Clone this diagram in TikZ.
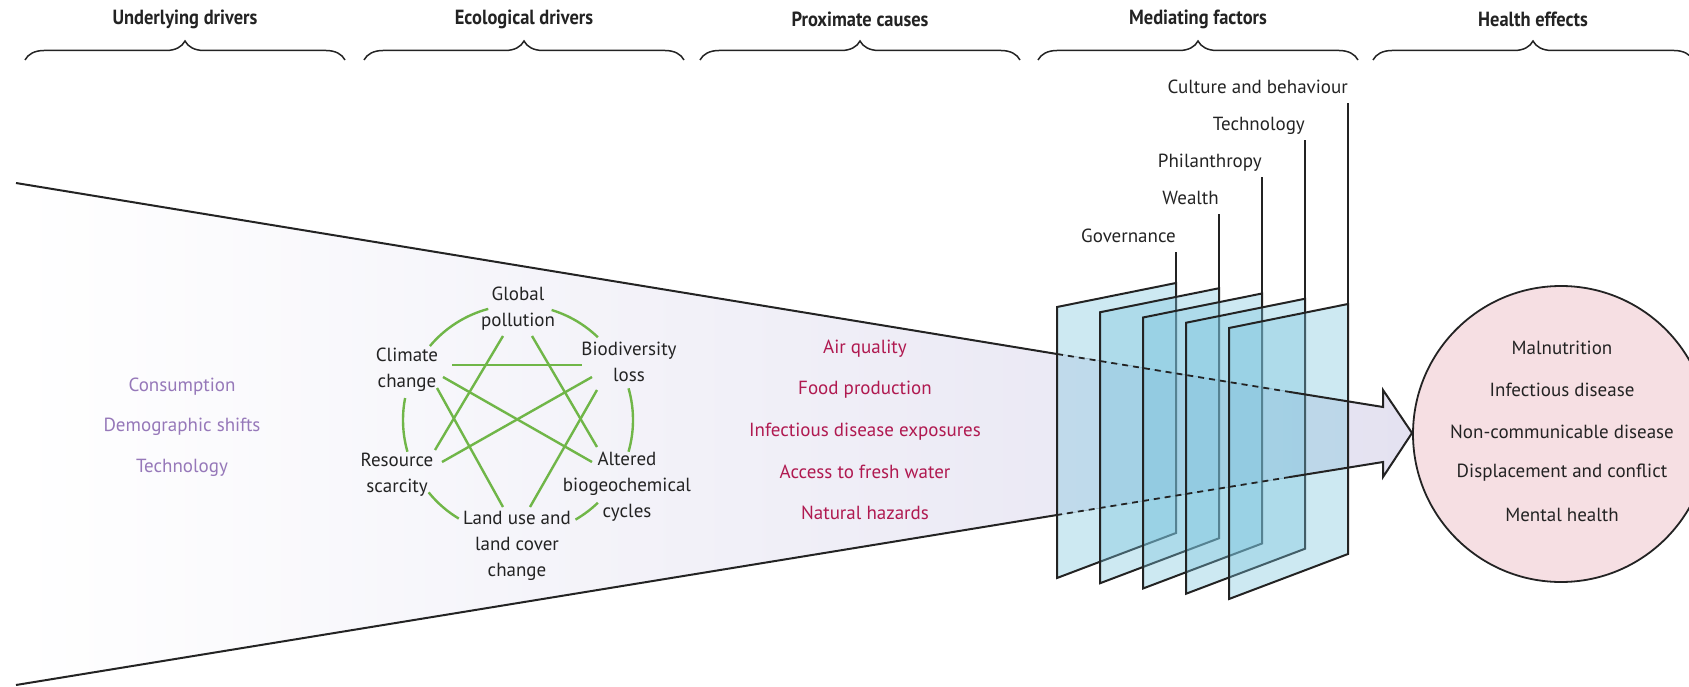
\documentclass[tikz,border=0pt]{standalone}
\usepackage{fontspec}
\usepackage{graphicx}
\setmainfont{PT Sans}
\usetikzlibrary{decorations.pathreplacing}
\definecolor{ink}{RGB}{35,35,35}
\definecolor{leaf}{RGB}{112,182,72}
\definecolor{plum}{RGB}{150,120,185}
\definecolor{crim}{RGB}{176,25,80}
\definecolor{lav}{RGB}{228,226,241}
\definecolor{pane}{RGB}{120,195,220}
\definecolor{rose}{RGB}{246,223,227}
\newcommand{\hdrtext}[1]{\scalebox{0.9}[1]{#1}}
\begin{document}
\begin{tikzpicture}[x=1pt,y=1pt,
  every node/.style={font=\fontsize{19}{26}\selectfont, text=ink, inner sep=0pt},
  hdr/.style={font=\fontsize{20.5}{24}\selectfont\bfseries},
  brc/.style={draw=ink, line width=1.5, decorate, decoration={brace, amplitude=19pt}},
  eco/.style={align=center},
  web/.style={draw=leaf, line width=2.4},
  edge/.style={draw=ink, line width=2},
  dsh/.style={draw=ink, line width=1.8, dash pattern=on 6pt off 5pt},
  panel/.style={draw=ink, line width=2, fill=pane, fill opacity=0.37, line join=miter},
  under/.style={text=plum},
  prox/.style={text=crim}
]
\useasboundingbox (0,0) rectangle (1689,-687);
\clip (0,0) rectangle (1689,-687);

% headers and braces
\foreach \cx/\t/\n in {185/Underlying drivers/h1, 524/Ecological drivers/h2, 860/Proximate causes/h3, 1198/Mediating factors/h4, 1533/Health effects/h5} {
  \node[hdr] (\n) at (\cx,-19) {\hdrtext{\t}};
  \draw[brc] (\cx-160,-60) -- (\cx+160,-60);
}

% funnel shading
\coordinate (tl0) at (16,-183);
\coordinate (tp1) at (1057,-354);
\coordinate (tp2) at (1290,-392);
\coordinate (ah1) at (1383,-407);
\coordinate (ah2) at (1383,-390);
\coordinate (tip) at (1412,-433);
\coordinate (ah3) at (1383,-477);
\coordinate (ah4) at (1383,-462);
\coordinate (bp2) at (1290,-477);
\coordinate (bp1) at (1057,-515);
\coordinate (bl0) at (16,-685);
\fill[left color=white, middle color=lav!45, right color=lav] (tl0) -- (ah1) -- (ah2) -- (tip) -- (ah3) -- (ah4) -- (bl0) -- cycle;

% underlying drivers
\node[under] (u1) at (182,-387) {Consumption};
\node[under] (u2) at (182,-427) {Demographic shifts};
\node[under] (u3) at (182,-468) {Technology};

% ecological drivers
\node[eco] (glob) at (518,-309) {Global\\pollution};
\node[eco] (clim) at (407,-370) {Climate\\change};
\node[eco] (bio)  at (629,-362) {Biodiversity\\loss};
\node[eco] (res)  at (397,-475) {Resource\\scarcity};
\node[eco] (alt)  at (627,-487) {Altered\\biogeochemical\\cycles};
\node[eco] (land) at (517,-546) {Land use and\\land cover\\change};

\coordinate (cen) at (518,-420);
\foreach \a/\b in {105/140, 46/73, 169/196, -16/16, 219/239, -60/-46} {
  \draw[web] ([shift={(\a:115)}]cen) arc[start angle=\a, end angle=\b, radius=115];
}
\coordinate (g1) at (503,-336); \coordinate (r1) at (435,-450);
\coordinate (g2) at (532,-336); \coordinate (a1) at (597,-447);
\coordinate (c1) at (452,-365); \coordinate (b1) at (582,-365);
\coordinate (c2) at (443,-377); \coordinate (a2) at (592,-462);
\coordinate (c3) at (437,-388); \coordinate (l1) at (503,-507);
\coordinate (b2) at (592,-377); \coordinate (r2) at (442,-462);
\coordinate (b3) at (597,-390); \coordinate (l2) at (530,-507);
\draw[web] (g1) -- (r1);
\draw[web] (g2) -- (a1);
\draw[web] (c1) -- (b1);
\draw[web] (c2) -- (a2);
\draw[web] (c3) -- (l1);
\draw[web] (b2) -- (r2);
\draw[web] (b3) -- (l2);

% proximate causes
\node[prox] (p1) at (865,-349) {Air quality};
\node[prox] (p2) at (865,-390) {Food production};
\node[prox] (p3) at (865,-432) {Infectious disease exposures};
\node[prox] (p4) at (865,-472) {Access to fresh water};
\node[prox] (p5) at (865,-513) {Natural hazards};

% panels
\foreach \i in {0,...,4} {
  \pgfmathsetmacro\xl{1057+43*\i}
  \pgfmathsetmacro\xr{1176+43*\i}
  \pgfmathsetmacro\ytl{307+5.25*\i}
  \pgfmathsetmacro\ytr{283+5.25*\i}
  \pgfmathsetmacro\ybr{533+5.25*\i}
  \pgfmathsetmacro\ybl{578+5.25*\i}
  \draw[panel] (\xl,-\ytl) -- (\xr,-\ytr) -- (\xr,-\ybr) -- (\xl,-\ybl) -- cycle;
}

% funnel outline and arrow
\draw[edge] (tl0) -- (tp1);
\draw[dsh] (tp1) -- (tp2);
\draw[edge, line join=miter] (tp2) -- (ah1) -- (ah2) -- (tip) -- (ah3) -- (ah4) -- (bp2);
\draw[dsh] (bp2) -- (bp1);
\draw[edge] (bp1) -- (bl0);

% mediating factor labels
\foreach \i/\t/\top in {0/Governance/252, 1/Wealth/214, 2/Philanthropy/177, 3/Technology/140, 4/Culture and behaviour/103} {
  \pgfmathsetmacro\xr{1176+43*\i}
  \pgfmathsetmacro\ytr{283+5.25*\i}
  \coordinate (m\i) at (\xr,-\top);
  \node[anchor=base east] (lab\i) at ([yshift=9pt]m\i) {\t};
  \draw[edge] (\xr,-\ytr) -- (m\i);
}

% health effects
\node[circle, draw=ink, line width=1.8, fill=rose, minimum size=296pt, inner sep=0pt] (he) at (1561,-434) {};
\node (e1) at (1562,-348) {Malnutrition};
\node (e2) at (1562,-390) {Infectious disease};
\node (e3) at (1562,-432) {Non-communicable disease};
\node (e4) at (1562,-473) {Displacement and conflict};
\node (e5) at (1562,-515) {Mental health};
\end{tikzpicture}
\end{document}
